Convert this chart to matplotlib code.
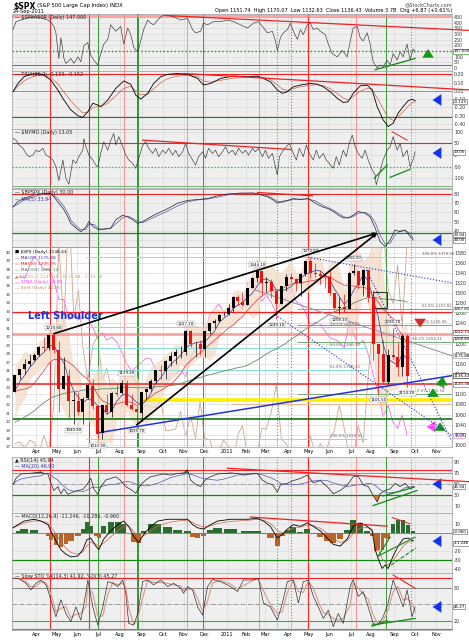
import numpy as np
import pandas as pd
import matplotlib
matplotlib.use('Agg')
import matplotlib.pyplot as plt
from matplotlib.patches import ConnectionPatch, Rectangle

# ---------------- data ----------------
# weekly $SPX bars, week ending 5-Mar-2010 ... 23-Sep-2011
spx_open = [1105, 1139, 1150, 1160, 1167, 1178, 1194, 1192, 1217, 1187,
            1111, 1136, 1087, 1087, 1065, 1092, 1117, 1077, 1023, 1078,
            1065, 1103, 1102, 1122, 1079, 1071, 1063, 1104, 1110, 1126,
            1148, 1146, 1165, 1176, 1183, 1183, 1226, 1199, 1200, 1189,
            1225, 1240, 1244, 1256, 1258, 1271, 1293, 1283, 1277, 1311,
            1329, 1343, 1320, 1321, 1304, 1279, 1314, 1332, 1328, 1320,
            1337, 1364, 1340, 1338, 1333, 1331, 1300, 1271, 1272, 1268,
            1340, 1344, 1316, 1345, 1292, 1199, 1179, 1124, 1177, 1174,
            1154, 1216]
spx_high = [1139, 1150, 1169, 1180, 1182, 1195, 1213, 1218, 1219.8, 1205,
            1173, 1150, 1104, 1105, 1094, 1120, 1131, 1077, 1079, 1100,
            1104, 1120, 1128, 1129.2, 1100, 1077, 1105, 1113, 1131, 1149,
            1158, 1167, 1184, 1189, 1196, 1227.1, 1226.8, 1204, 1208, 1225,
            1241, 1248, 1259, 1263, 1278, 1294, 1297, 1302, 1311, 1331,
            1344.1, 1343, 1332, 1327, 1304, 1314, 1337, 1339, 1329, 1339,
            1364, 1370.6, 1359, 1346, 1334, 1346, 1300, 1292, 1298, 1341,
            1356.5, 1344, 1347, 1346, 1307, 1199, 1208, 1190, 1230.7, 1204,
            1220, 1220]
spx_low = [1105, 1131, 1141, 1156, 1165, 1175, 1186, 1188, 1181, 1065.8,
           1111, 1055.9, 1040.8, 1060, 1042.2, 1091, 1071, 1010.9, 1011, 1062,
           1056, 1096, 1100, 1076, 1069, 1039.7, 1047, 1091, 1107, 1122,
           1131, 1131, 1155, 1159, 1171, 1177, 1194, 1173, 1177, 1174,
           1219, 1232, 1242, 1254, 1257, 1262, 1276, 1275, 1276, 1310,
           1321, 1294, 1303, 1291, 1249.1, 1279, 1304, 1322, 1305, 1295,
           1334, 1329, 1332, 1318, 1311, 1296, 1268, 1258.1, 1262, 1268,
           1335, 1308, 1295, 1282, 1168, 1101.5, 1122, 1121, 1170, 1136,
           1136.2, 1114.2]
spx_close = [1138.7, 1150.0, 1159.9, 1166.6, 1178.1, 1194.4, 1192.1, 1217.3, 1186.7, 1110.9,
             1135.7, 1087.7, 1089.4, 1064.9, 1091.6, 1117.5, 1076.8, 1022.6, 1078.0, 1064.9,
             1102.7, 1101.6, 1121.6, 1079.3, 1071.7, 1064.6, 1104.5, 1109.6, 1125.6, 1148.7,
             1146.2, 1165.2, 1176.2, 1183.1, 1183.3, 1225.9, 1199.2, 1199.7, 1189.4, 1224.7,
             1240.4, 1243.9, 1256.8, 1257.6, 1271.5, 1293.2, 1283.4, 1276.3, 1310.9, 1329.2,
             1343.0, 1319.9, 1321.2, 1304.3, 1279.2, 1313.8, 1332.4, 1328.2, 1319.7, 1337.4,
             1363.6, 1340.2, 1337.8, 1333.3, 1331.1, 1300.2, 1271.0, 1271.5, 1268.5, 1339.7,
             1343.8, 1316.1, 1345.0, 1292.3, 1199.4, 1178.8, 1123.5, 1176.8, 1174.0, 1154.2,
             1216.0, 1136.4]
# weekly closes Jun-2009 .. Feb-2010, only used to warm up the moving averages
spx_prior = [919.1, 940.1, 946.2, 921.2, 918.9, 896.4, 879.1, 940.4, 979.3, 987.5,
             1010.5, 1004.1, 1026.1, 1028.9, 1016.4, 1042.7, 1068.3, 1044.4, 1025.2, 1071.5,
             1087.7, 1079.6, 1036.2, 1069.3, 1093.5, 1091.4, 1091.5, 1106.0, 1106.4, 1102.5,
             1126.5, 1115.1, 1145.0, 1136.0, 1091.8, 1073.9, 1066.2, 1075.5, 1109.2, 1104.5]
# overlays (left scale), same weeks
vix = [17.4, 17.6, 16.9, 17.8, 17.5, 16.1, 18.4, 16.6, 22.1, 40.9, 31.2, 45.8, 32.1,
       35.5, 28.8, 24.9, 29.0, 30.1, 24.9, 26.3, 23.5, 23.5, 21.7, 26.2, 25.5, 24.5,
       21.3, 22.0, 21.7, 21.7, 22.5, 18.9, 19.0, 19.1, 21.2, 18.3, 20.6, 18.0, 22.4,
       18.0, 17.9, 16.1, 16.5, 17.8, 17.1, 15.5, 18.5, 19.5, 16.0, 15.7, 16.4, 19.2,
       19.1, 21.2, 24.4, 17.9, 17.4, 16.0, 15.3, 14.7, 14.8, 18.4, 16.0, 17.4, 16.0,
       18.0, 18.9, 21.9, 19.2, 15.9, 16.0, 19.5, 17.5, 25.3, 32.0, 36.4, 43.1, 35.6,
       33.9, 38.5, 31.0, 41.3]
tnx = [36.9, 37.1, 36.9, 38.5, 39.5, 38.9, 37.9, 38.0, 36.6, 34.4, 34.4, 32.0, 32.9,
       32.0, 32.3, 32.2, 31.1, 29.8, 30.5, 29.6, 30.0, 29.4, 28.2, 26.8, 26.0, 26.5,
       27.0, 27.5, 27.4, 26.1, 25.1, 24.1, 25.6, 25.6, 26.1, 25.3, 27.5, 28.7, 28.7,
       30.1, 32.6, 33.3, 33.9, 32.9, 33.4, 33.4, 33.9, 33.2, 36.4, 36.3, 35.8, 34.2,
       34.9, 34.0, 32.8, 34.4, 34.5, 35.8, 34.1, 33.9, 32.9, 31.5, 31.7, 31.5, 30.6,
       29.9, 29.7, 29.4, 28.7, 31.8, 30.3, 29.1, 29.6, 28.0, 25.6, 23.4, 20.6, 21.9,
       19.9, 19.2, 20.8, 18.4]

# indicators: session (trading days from 1-Mar-2010) and value
p1_s = [0, 3, 8, 15, 21, 28, 35, 38, 41, 43, 45, 46, 48, 50, 51, 53, 55, 58, 61, 65,
        68, 71, 75, 76, 78, 81, 85, 88, 91, 95, 98, 103, 108, 111, 115, 118, 121, 125, 128, 131,
        135, 138, 141, 145, 148, 151, 155, 161, 168, 175, 180, 183, 188, 191, 195, 201, 208, 215, 221, 228,
        235, 241, 246, 250, 255, 260, 263, 265, 268, 271, 275, 278, 281, 285, 288, 291, 295, 298, 301, 305,
        308, 313, 316, 320, 325, 330, 335, 338, 341, 345, 348, 351, 355, 358, 361, 365, 368, 371, 375, 378,
        381, 385, 388, 391, 395, 398, 401, 403]
p1_v = [338, 408, 422, 441, 450, 441, 422, 402, 366, 310, 155, 85, 267, 155, 85, 42, 56, 85, 42, 99,
        56, 197, 225, 169, 113, 70, 28, 127, 211, 253, 380, 323, 366, 211, 352, 295, 183, 141, 239, 338,
        422, 394, 380, 422, 450, 464, 464, 450, 422, 436, 338, 310, 323, 394, 380, 408, 408, 422, 408, 380,
        352, 394, 408, 366, 310, 323, 239, 155, 267, 310, 338, 394, 323, 253, 338, 295, 380, 394, 338, 352,
        323, 295, 211, 127, 99, 155, 99, 239, 352, 366, 267, 239, 310, 211, 56, 0, 28, 14, 70, 28,
        127, 70, 141, 99, 211, 70, 169, 141]

trix_s = [0, 5, 11, 18, 25, 31, 38, 45, 51, 58, 65, 70, 75, 80, 85, 88, 95, 103, 111, 118,
          123, 128, 135, 141, 148, 155, 165, 175, 185, 191, 198, 208, 221, 235, 245, 251, 258, 265, 270, 275,
          281, 288, 298, 305, 311, 318, 325, 331, 336, 341, 348, 355, 360, 365, 371, 376, 381, 386, 391, 396,
          400, 403]
trix_v = [-0.01, 0.09, 0.17, 0.20, 0.21, 0.19, 0.13, 0.01, -0.11, -0.23, -0.30, -0.32, -0.25, -0.15, -0.17,
          -0.19, -0.11, 0.03, 0.12, 0.08, -0.05, -0.10, -0.03, 0.09, 0.17, 0.20, 0.21, 0.20, 0.15, 0.07,
          0.09, 0.15, 0.18, 0.17, 0.18, 0.15, 0.11, 0.01, -0.03, -0.01, 0.05, 0.07, 0.09, 0.08, 0.05,
          -0.01, -0.09, -0.14, -0.13, -0.03, 0.06, 0.07, 0.01, -0.19, -0.35, -0.43, -0.39, -0.27, -0.19, -0.12,
          -0.10, -0.12]

nymo_s = [0, 3, 6, 10, 13, 16, 20, 23, 26, 30, 33, 36, 40, 43, 46, 50, 53, 56, 60, 63,
          66, 70, 71, 73, 76, 80, 83, 85, 88, 91, 95, 98, 101, 103, 106, 110, 113, 116, 120, 123,
          126, 130, 133, 136, 140, 143, 146, 150, 153, 156, 160, 163, 166, 170, 173, 176, 180, 183, 186, 190,
          193, 196, 200, 203, 206, 210, 213, 216, 220, 223, 226, 230, 233, 236, 240, 243, 246, 250, 253, 256,
          260, 263, 265, 267, 271, 274, 277, 281, 284, 287, 291, 294, 297, 301, 304, 307, 311, 314, 317, 321,
          324, 327, 331, 334, 337, 340, 343, 346, 350, 353, 356, 360, 363, 364, 366, 371, 375, 378, 381, 385,
          388, 391, 395, 398, 401, 403]
nymo_v = [71, 64, 43, 29, 7, -7, 0, 21, 14, 29, 0, -7, -21, -50, -110, -21, -100, -125, -21, -36,
          -7, 21, 71, 36, 0, -21, -43, -50, 7, 57, 21, 64, 93, 43, 79, 36, 0, -21, -36, -57,
          -14, 43, 57, 29, 7, 29, -7, 21, 7, 29, 0, 21, -7, 14, 50, 7, -21, -43, -7, 14,
          -14, 29, 7, 21, -7, 14, 36, 7, 21, 0, 29, 7, 21, 0, 29, 14, 29, -7, 21, -14,
          7, -50, -86, -7, 21, 36, 50, 7, -21, 29, -7, 43, 7, -21, 21, -14, 7, -21, -36, -57,
          -7, -43, 21, -7, 50, 86, 36, 7, -14, 21, -21, -64, -86, -129, -100, -21, 21, 36, 79, 21,
          50, -7, 21, -50, -21, 14]

bp_s = [0, 5, 11, 21, 31, 38, 41, 46, 51, 55, 58, 63, 68, 73, 76, 81, 86, 91, 98, 103,
        110, 115, 120, 125, 130, 136, 145, 155, 165, 175, 185, 195, 205, 215, 228, 241, 248, 255, 260, 265,
        270, 275, 281, 288, 296, 303, 310, 316, 321, 326, 331, 336, 341, 346, 353, 358, 363, 368, 373, 378,
        383, 388, 393, 398, 401]
bp_v = [66, 72, 75, 79, 81, 80, 77, 70, 63, 55, 48, 43, 39, 44, 50, 44, 41, 42, 43, 52,
        57, 55, 52, 48, 50, 54, 59, 64, 70, 73, 74, 75, 78, 80, 81, 81, 79, 77, 74, 70,
        72, 73, 75, 74, 75, 70, 66, 64, 61, 57, 54, 54, 57, 61, 59, 55, 43, 28, 23, 30,
        41, 39, 41, 34, 30]

rsi_s = [0, 3, 8, 15, 21, 28, 31, 35, 38, 41, 45, 48, 51, 55, 60, 65, 70, 75, 78, 81,
         85, 88, 93, 98, 103, 108, 113, 118, 123, 128, 133, 138, 145, 151, 158, 165, 171, 175, 178, 183,
         188, 193, 198, 205, 211, 218, 225, 231, 238, 245, 250, 255, 260, 265, 268, 275, 281, 288, 295, 301,
         308, 315, 321, 328, 335, 341, 346, 351, 356, 361, 365, 368, 373, 378, 383, 388, 393, 398, 402]
rsi_v = [50, 61, 69, 70, 71, 73, 70, 69, 52, 39, 46, 33, 42, 32, 36, 39, 41, 52, 61, 42,
         32, 46, 58, 61, 64, 57, 46, 41, 34, 49, 58, 64, 67, 69, 67, 70, 71, 77, 58, 50,
         46, 59, 64, 69, 70, 71, 70, 67, 69, 70, 58, 52, 50, 36, 49, 52, 57, 61, 67, 53,
         57, 46, 33, 39, 49, 64, 65, 49, 46, 30, 18, 33, 39, 42, 52, 46, 52, 42, 46]

macd_s = [0, 5, 11, 21, 28, 35, 38, 43, 48, 53, 58, 65, 70, 74, 78, 83, 86, 91, 98, 105,
          111, 116, 121, 126, 131, 138, 145, 155, 165, 175, 180, 185, 191, 198, 205, 218, 235, 245, 251, 258,
          265, 270, 275, 281, 288, 295, 301, 308, 315, 321, 328, 335, 341, 348, 355, 360, 363, 366, 370, 373,
          376, 381, 386, 391, 396, 401]
macd_v = [5.5, 9, 13, 15, 13, 9, 2, -9, -19, -24, -27, -26, -19, -8, -6, -15, -19, -7, 2, 9,
          13, 7, -4, -11, -2, 7, 13, 15, 15, 15, 9, 5.5, 4, 9, 13, 15, 15, 16, 13, 7,
          -6, -2, 4, 9, 7, 11, 7, 2, -6, -13, -15, -7, 7, 11, 7, 2, -19, -29, -40, -36,
          -40, -26, -15, -7, -6, -9]

sto_s = [0, 5, 8, 13, 18, 23, 28, 33, 36, 40, 43, 48, 53, 58, 63, 68, 73, 75, 80, 85,
         90, 95, 100, 105, 110, 113, 116, 121, 125, 130, 135, 141, 148, 155, 161, 168, 171, 175, 180, 185,
         190, 195, 200, 208, 218, 225, 231, 241, 246, 251, 258, 265, 270, 275, 281, 286, 291, 296, 301, 306,
         311, 316, 321, 326, 331, 338, 341, 346, 351, 356, 361, 366, 371, 376, 381, 386, 391, 395, 400, 403]
sto_v = [97, 97, 94, 88, 76, 88, 94, 85, 70, 45, 27, 58, 33, 18, 45, 21, 70, 94, 45, 12,
         45, 91, 88, 82, 94, 70, 15, 12, 33, 91, 94, 85, 94, 82, 88, 79, 70, 82, 76, 45,
         30, 82, 95, 91, 82, 73, 94, 94, 97, 52, 45, 21, 52, 91, 94, 52, 91, 94, 64, 45,
         24, 39, 9, 33, 15, 82, 95, 64, 73, 45, 15, 12, 27, 52, 94, 70, 45, 76, 27, 45]

holidays = ['2010-04-02', '2010-05-31', '2010-07-05', '2010-09-06', '2010-11-25', '2010-12-24',
            '2011-01-17', '2011-02-21', '2011-04-22', '2011-05-30', '2011-07-04', '2011-09-05', '2011-11-24']

# ---------------- calendar ----------------
days = pd.bdate_range('2010-03-01', '2011-11-30')
days = days[~days.isin(pd.to_datetime(holidays))]
wper = days.to_period('W-FRI')
wk_x = np.array([np.where(wper == p)[0].mean() for p in wper.unique()[:len(spx_close)]])
mon = days.to_period('M')
month_x, month_lab = [], []
for p in mon.unique()[1:]:
    i = np.where(mon == p)[0][0]
    if i > 440:
        break
    month_x.append(i)
    month_lab.append('2011' if p.month == 1 else p.strftime('%b'))

# moving averages / bollinger from weekly closes
full = pd.Series(spx_prior + spx_close)
n0 = len(spx_prior)
ma20 = full.rolling(4).mean().values[n0:]
ma50 = full.rolling(10).mean().values[n0:]
ma200 = full.rolling(40).mean().values[n0:]
sd = full.rolling(4).std().values[n0:]

W, H = 469, 640
fig = plt.figure(figsize=(W / 100, H / 100), dpi=100)
BG = '#efefef'

# marker lines across every panel
vmarks = [(37, '#ff2a2a', '-', 0.8), (76, '#ff2a2a', '-', 0.8), (296, '#ff2a2a', '-', 0.9),
          (85, '#3a9a3a', '-', 0.7), (190, '#3a9a3a', '-', 0.7), (374, '#3a9a3a', '-', 0.7),
          (125, '#118811', '-', 1.2), (111, '#ff9090', '-', 0.7), (174, '#ff9090', '-', 0.7),
          (247, '#ff9090', '-', 0.7), (344, '#ff9090', '-', 0.7), (265, '#44bb44', ':', 0.8),
          (399, '#44bb44', ':', 0.8), (279, '#ff4444', ':', 0.8)]


def panel(top, bot, ylim, yticks, fmt='{:g}'):
    ax = fig.add_axes([12 / W, 1 - bot / H, 440 / W, (bot - top) / H])
    ax.set_facecolor(BG)
    ax.set_xlim(-1, 440)
    ax.set_ylim(*ylim)
    ax.yaxis.tick_right()
    ax.set_yticks(yticks)
    ax.set_yticklabels([fmt.format(v) for v in yticks])
    ax.tick_params(axis='y', length=0, pad=1.5, labelsize=3.4, colors='#333333')
    ax.set_xticks(month_x)
    ax.tick_params(axis='x', length=0, labelbottom=False)
    ax.grid(True, color='#dadada', lw=0.5)
    ax.set_axisbelow(True)
    for s in ax.spines.values():
        s.set_color('#9a9a9a')
        s.set_linewidth(0.5)
    for x, c, ls, lw in vmarks:
        ax.axvline(x, color=c, ls=ls, lw=lw, zorder=1)
    return ax


def title(ax, txt, color='#222222', y=0.985):
    ax.text(0.006, y, txt, transform=ax.transAxes, fontsize=3.5, va='top', color=color, zorder=6)


def tag(ax, v, txt, ec='#555555', tc='black'):
    ax.annotate(txt, xy=(1, v), xycoords=('axes fraction', 'data'), xytext=(1, 0),
                textcoords='offset points', fontsize=2.9, va='center', ha='left', color=tc,
                bbox=dict(boxstyle='square,pad=0.12', fc='white', ec=ec, lw=0.4),
                annotation_clip=False, zorder=7)


def arrow(ax, x, y, direction, color):
    off = {'left': (7, 0), 'up': (0, -7), 'down': (0, 7)}[direction]
    ax.annotate('', xy=(x, y), xytext=off, textcoords='offset points',
                arrowprops=dict(arrowstyle='simple,head_width=0.8,head_length=0.6,tail_width=0.4',
                                fc=color, ec=color, lw=0.2), annotation_clip=False)


# ---------------- header ----------------
fig.text(13 / W, 1 - 6 / H, '$SPX', fontsize=5.5, fontweight='bold', va='center')
fig.text(37 / W, 1 - 6 / H, '(S&P 500 Large Cap Index) INDX', fontsize=3.8, va='center')
fig.text(13 / W, 1 - 12 / H, '24-Sep-2011', fontsize=3.6, va='center')
fig.text(452 / W, 1 - 4.5 / H, '@StockCharts.com', fontsize=3.6, ha='right', va='center', color='#444444')
fig.text(452 / W, 1 - 10.5 / H,
         'Open 1151.74  High 1170.07  Low 1132.63  Close 1136.43  Volume 3.7B  Chg +6.87 (+0.61%)',
         fontsize=3.6, ha='right', va='center')

# ---------------- panel 1 ----------------
ax1 = panel(14, 71, (-25, 475), list(range(0, 451, 50)))
ax1.axhline(455, color='#ff8888', lw=2.2, alpha=0.7)
ax1.axhline(147, color='#119911', lw=1.0, ls=':')
ax1.axhline(25, color='#339933', lw=0.7)
ax1.plot(p1_s, p1_v, color='#333333', lw=0.45, zorder=3)
ax1.plot([153, 460], [462, 330], color='#ee2222', lw=0.9, clip_on=False, zorder=4)
ax1.plot([363, 403], [-14, 85], color='#118811', lw=0.9, zorder=4)
title(ax1, '— $SPXA50R (Daily) 147.000')
tag(ax1, 147, '147.000', ec='#118811')
arrow(ax1, 416, 190, 'up', '#119911')

# ---------------- panel 2 ----------------
ax2 = panel(71, 129, (-0.46, 0.24), [0.2, 0.1, 0.0, -0.1, -0.2, -0.3, -0.4], '{:.2f}')
ax2.axhline(0.20, color='#ee2222', lw=0.8)
ax2.axhline(0.0, color='#888888', lw=0.6)
ax2.axhline(-0.31, color='#118811', lw=0.8)
trix_sig = pd.Series(trix_v).ewm(span=3).mean()
ax2.plot(trix_s, trix_sig, color='#cc6644', lw=0.5, zorder=3)
ax2.plot(trix_s, trix_v, color='black', lw=0.6, zorder=3)
ax2.plot([171, 460], [0.21, 0.01], color='#ee2222', lw=0.9, clip_on=False, zorder=4)
title(ax2, '— TRIX(20,9) -0.133, -0.152')
tag(ax2, -0.133, '-0.133')
arrow(ax2, 418, -0.11, 'left', '#1133ee')

# ---------------- panel 3 ----------------
ax3 = panel(129, 189, (-146, 112), [100, 50, 0, -50, -100])
ax3.axhline(50, color='#ee2222', lw=0.8)
ax3.axhline(-53, color='#44aa44', lw=0.9, ls=':')
ax3.axhline(-133, color='#66aa66', lw=0.6)
ax3.axhline(-141, color='#aaaaaa', lw=0.6)
ax3.plot(nymo_s, nymo_v, color='#333333', lw=0.45, zorder=3)
ax3.plot([130, 278], [64, 24], color='#ee2222', lw=0.9, zorder=4)
ax3.plot([380, 395], [100, 64], color='#ee2222', lw=0.7, zorder=4)
ax3.plot([362, 375], [-100, -43], color='#118811', lw=0.9, zorder=4)
ax3.plot([378, 398], [-96, -61], color='#118811', lw=0.9, zorder=4)
title(ax3, '— $NYMO (Daily) 13.05')
tag(ax3, 13, '13.05')
arrow(ax3, 418, 8.6, 'left', '#1133ee')

# ---------------- panel 4 ----------------
ax4 = panel(189, 247, (22.4, 85.4), [30, 40, 50, 60, 70, 80])
ax4.axhline(80, color='#ee2222', lw=0.8)
ax4.axhline(38, color='#118811', lw=0.9)
bp_ma = pd.Series(bp_v).rolling(2, min_periods=1).mean()
ax4.plot(bp_s, bp_ma, color='#5555aa', lw=0.5, zorder=3)
ax4.plot(bp_s, bp_v, color='#222222', lw=0.5, zorder=3)
ax4.plot([245, 300], [81.6, 78], color='#ee2222', lw=0.9, zorder=4)
title(ax4, '— $BPSPX (Daily) 30.00', y=0.99)
ax4.text(0.006, 0.86, '— MA(5) 33.94', transform=ax4.transAxes, fontsize=3.5, va='top', color='#333399')
tag(ax4, 35.5, '33.94')
tag(ax4, 29.5, '30.00')
arrow(ax4, 418, 30, 'left', '#1133ee')

# ---------------- price panel ----------------
axp = panel(247, 447, (996, 1391), list(range(1000, 1381, 20)))
axv = axp.twinx()
# twinx flips the host's ticks to the left, put them back
axp.yaxis.tick_right()
axp.tick_params(axis='y', length=0, pad=1.5, labelsize=3.4, colors='#333333')
axv.set_ylim(17, 40.6)
axv.yaxis.tick_left()
axv.set_yticks(range(17, 41))
axv.tick_params(axis='y', length=0, pad=1, labelsize=2.9, colors='#333333')
axv.set_zorder(axp.get_zorder() - 1)
axv.set_facecolor(BG)
axp.patch.set_visible(False)
for s in axv.spines.values():
    s.set_visible(False)
axv.plot(wk_x, vix, color='#c9a48e', lw=0.6)
axv.plot(wk_x, tnx, color='#ee66ee', lw=0.6)

axp.tick_params(axis='x', labelbottom=True, labelsize=3.6, pad=1.5)
axp.set_xticklabels(month_lab)

# bollinger band + moving averages
axp.fill_between(wk_x, ma20 - 2 * sd, ma20 + 2 * sd, color='#f3dcc8', alpha=0.75, lw=0, zorder=1.5)
axp.plot(wk_x, ma20, color='#333399', lw=0.5, zorder=3)
axp.plot(wk_x, ma50, color='#dd3333', lw=0.5, zorder=3)
axp.plot(wk_x, ma200, color='#668866', lw=0.6, zorder=3)

# support / resistance / fibonacci lines
axp.axhline(1262, color='#ee2222', lw=0.9, zorder=2)
axp.axhline(1219.8, color='#ff7777', lw=2.2, alpha=0.6, zorder=2)
axp.axhline(1120, color='#ee2222', lw=1.1, zorder=2)
axp.axhline(1052, color='#117711', lw=1.2, zorder=2)
axp.hlines(1089, 128, 440, color='#ffee00', lw=2.6, zorder=2)
axp.hlines(1080, 218, 440, color='#e8b890', lw=0.8, zorder=2)
axp.hlines(1370.58, 73, 440, color='#88dddd', lw=0.7, zorder=2)
for lv in [1233.2, 1190.7, 1148.3, 1010.91]:
    axp.hlines(lv, 73, 355, color='#88dddd', lw=0.7, zorder=2)
for lv in [1267.82, 1236.06, 1204.31, 1101.54]:
    axp.hlines(lv, 285, 440, color='#77aa77', lw=0.7, zorder=2)
fib_txt = [(318, 1233.2, '38.2% 1233.21'), (318, 1190.7, '50.0% 1190.75'),
           (318, 1148.3, '61.8% 1148.30'), (318, 1010.91, '100.0% 1010.91'),
           (410, 1370.58, '100.0% 1370.58'), (410, 1267.82, '61.8% 1267.82'),
           (405, 1236.06, '50.0% 1236.06'), (400, 1204.31, '38.2% 1204.31'),
           (405, 1101.54, '0.0% 1101.54')]
for x, y, t in fib_txt:
    axp.text(x, y + 2, t, fontsize=2.8, color='#666666', va='bottom', zorder=4)

# trend lines
axp.plot([85, 440], [1024, 1137], color='#2233dd', lw=1.1, zorder=4)
axp.plot([296, 440], [1370.6, 1320], color='#2233dd', lw=0.8, ls=':', zorder=4)
axp.plot([263, 440], [1257, 1018], color='#2233dd', lw=0.8, ls=':', zorder=4)
axp.plot([354, 440], [1346, 1007], color='#2233dd', lw=0.8, ls=':', zorder=4)
axp.plot([243, 440], [1306, 1176], color='#9988aa', lw=0.7, zorder=4)
axp.add_patch(Rectangle((361, 1270.7), 14, 31.3, fill=False, ec='#333333', lw=0.8, zorder=5))

# candles
for x, o, hi, lo, c in zip(wk_x, spx_open, spx_high, spx_low, spx_close):
    col = 'black' if c >= o else '#ee1111'
    axp.vlines(x, lo, hi, color=col, lw=0.5, zorder=5)
    axp.bar(x, max(abs(c - o), 0.8), bottom=min(o, c), width=3.0, color=col, lw=0, zorder=5)

# pivot labels
pivots = [(8, 'hi'), (17, 'lo'), (25, 'lo'), (12, 'lo'), (23, 'hi'), (35, 'hi'), (50, 'hi'),
          (54, 'lo'), (61, 'hi'), (67, 'lo'), (70, 'hi'), (75, 'lo'), (78, 'hi'), (81, 'lo')]
for i, kind in pivots:
    v = spx_high[i] if kind == 'hi' else spx_low[i]
    axp.annotate('%.2f' % v, xy=(wk_x[i], v), xytext=(0, 3 if kind == 'hi' else -3),
                 textcoords='offset points', fontsize=2.8, ha='center',
                 va='bottom' if kind == 'hi' else 'top', zorder=6,
                 bbox=dict(boxstyle='square,pad=0.1', fc='white', ec='#888888', lw=0.3))

axp.text(15, 1249, 'Left Shoulder', color='#1a33dd', fontsize=7, fontweight='bold', zorder=6)

# legend block
leg = [('■ $SPX (Daily) 1136.43', 'black'), ('— MA(20) 1175.88', '#333399'),
       ('— MA(50) 1205.75', '#dd3333'), ('— MA(200) 1268.14', '#557755'),
       ('▲ BB(20,2) 1235.38 - 1175.88 - 1116.38', '#cc9966'),
       ('— $TNX (Daily) 18.38', '#ee44ee'), ('— $VIX (Daily) 41.25', '#b08870')]
for k, (t, c) in enumerate(leg):
    axp.text(0.006, 0.985 - k * 0.03, t, transform=axp.transAxes, fontsize=3.2, color=c, va='top', zorder=6)

tag(axp, 1267.82, '1267.82', ec='#77aa77')
tag(axp, 1222.71, '1222.71', ec='#ee2222')
tag(axp, 1208.8, '1208.80', ec='#118811')
tag(axp, 1175.88, '1175.88', ec='#9988aa')
tag(axp, 1136.43, '1136.43', ec='black')
tag(axp, 1120.38, '1120.38', ec='#ee2222')
axv.annotate('18.38', xy=(1, 18.38), xycoords=('axes fraction', 'data'), xytext=(1, 0),
             textcoords='offset points', fontsize=2.9, va='center', color='#cc33cc',
             bbox=dict(boxstyle='square,pad=0.12', fc='white', ec='#ee66ee', lw=0.4), annotation_clip=False)

arrow(axp, 408, 1227, 'down', '#ee2222')
arrow(axp, 421, 1122, 'left', '#888888')
arrow(axp, 430, 1140, 'up', '#119911')
arrow(axp, 421, 1117, 'up', '#119911')
arrow(axp, 428, 1050, 'up', '#119911')
arrow(axv, 412, 19.4, 'left', '#ff44ff')

# arrows from the price pivots up to the breadth low
for xa, ya in [(wk_x[8], spx_high[8]), (wk_x[25], spx_low[25])]:
    con = ConnectionPatch(xyA=(xa, ya), coordsA=axp.transData, xyB=(365, 37.6), coordsB=ax4.transData,
                          arrowstyle='-|>', color='black', lw=1.2, mutation_scale=5)
    con.set_zorder(10)
    fig.add_artist(con)

# ---------------- RSI ----------------
axr = panel(457, 513, (-2, 100), [10, 30, 50, 70, 90])
axr.axhline(77, color='#ee2222', lw=0.8)
axr.axhline(70, color='#888888', lw=0.6)
axr.axhline(50, color='#888888', lw=0.5, ls='-.')
axr.axhline(30, color='#118811', lw=0.9)
rv = np.array(rsi_v, dtype=float)
axr.fill_between(rsi_s, rv, 70, where=rv > 70, interpolate=True, color='#2e7d32', lw=0, zorder=2)
axr.fill_between(rsi_s, rv, 30, where=rv < 30, interpolate=True, color='#e07a30', lw=0, zorder=2)
rsi_ma = pd.Series(rv).rolling(6, min_periods=1).mean()
axr.plot(rsi_s, rsi_ma, color='#5555aa', lw=0.5, zorder=3)
axr.plot(rsi_s, rv, color='#222222', lw=0.5, zorder=3)
axr.plot([215, 460], [79.5, 54.8], color='#ee2222', lw=0.9, clip_on=False, zorder=4)
axr.plot([361, 405], [11.6, 39], color='#118811', lw=0.9, zorder=4)
axr.plot([371, 402], [29, 45], color='#118811', lw=0.9, zorder=4)
title(axr, '▲ RSI(14) 45.94', y=0.99)
axr.text(0.006, 0.88, '— MA(20) 46.90', transform=axr.transAxes, fontsize=3.5, va='top', color='#333399')
tag(axr, 46, '45.94')
arrow(axr, 418, 50.6, 'left', '#1133ee')

# ---------------- MACD ----------------
axm = panel(513, 573, (-45, 22), [10, -20, -30, -40])
axm.axhline(0, color='#777777', lw=0.6)
axm.axhline(-30, color='#118811', lw=0.9)
mv = pd.Series(macd_v, dtype=float)
msig = mv.ewm(span=3).mean()
hist = (mv - msig).values
bw = np.gradient(np.array(macd_s, dtype=float)) * 0.9
axm.bar(macd_s, hist * 1.8, width=bw, color=np.where(hist >= 0, '#2e6b2e', '#b5652a'), lw=0, zorder=2)
axm.plot(macd_s, msig, color='#cc6644', lw=0.5, zorder=3)
axm.plot(macd_s, mv, color='black', lw=0.6, zorder=3)
axm.plot([238, 375], [17.5, 7.3], color='#ee2222', lw=0.9, zorder=4)
axm.plot([380, 398], [17, 10], color='#ee2222', lw=0.7, zorder=4)
axm.plot([366, 403], [-26, -5], color='#118811', lw=0.8, zorder=4)
axm.plot([374, 404], [-40, -17], color='#118811', lw=0.8, ls='--', zorder=4)
axm.plot([366, 378], [-26, -5], color='#118811', lw=0.8, zorder=4)
title(axm, '— MACD(12,26,9) -11.246, -10.286, -0.960')
tag(axm, 1, '-0.960')
tag(axm, -12, '-11.246')
arrow(axm, 418, -9.5, 'left', '#1133ee')

# ---------------- slow stochastic ----------------
axs = panel(573, 630, (3, 106.7), [20, 80])
axs.axhline(97, color='#ee2222', lw=0.8)
axs.axhline(80, color='#777777', lw=0.6)
axs.axhline(50, color='#777777', lw=0.5, ls='-.')
axs.axhline(20, color='#44aa44', lw=0.8)
axs.axhline(5, color='#44aa44', lw=0.8)
sto_d = pd.Series(sto_v, dtype=float).rolling(2, min_periods=1).mean()
axs.plot(sto_s, sto_d, color='#d8a090', lw=0.9, zorder=3)
axs.plot(sto_s, sto_v, color='#222222', lw=0.45, zorder=3)
axs.plot([381, 403], [103, 79], color='#ee2222', lw=0.8, zorder=4)
axs.plot([360, 403], [12, 24], color='#118811', lw=0.9, zorder=4)
axs.plot([360, 375], [10, 20], color='#118811', lw=0.9, zorder=4)
title(axs, '— Slow STO %K(14,3) 41.92, %D(3) 45.27', y=0.99)
tag(axs, 45, '45.27')
arrow(axs, 418, 45, 'left', '#1133ee')
axs.tick_params(axis='x', labelbottom=True, labelsize=3.6, pad=1.5)
axs.set_xticklabels(month_lab)

fig.savefig('out.png', dpi=100)
